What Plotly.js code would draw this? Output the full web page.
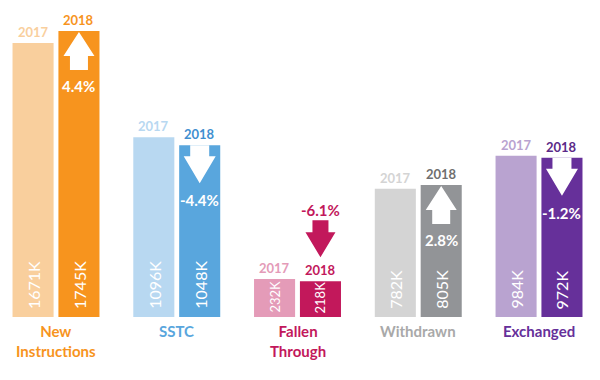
<!DOCTYPE html>
<html><head><meta charset="utf-8">
<script src="https://cdn.plot.ly/plotly-3.0.1.min.js"></script>
<style>html,body{margin:0;padding:0;background:#fff}#chart{width:600px;height:380px}</style>
</head><body><div id="chart"></div>
<script>
const categories = ['New<br>Instructions', 'SSTC', 'Fallen<br>Through', 'Withdrawn', 'Exchanged'];
const years = ['2017', '2018'];
const values2017 = [1671, 1096, 232, 782, 984];
const values2018 = [1745, 1048, 218, 805, 972];
const changeLabels = ['4.4%', '-4.4%', '-6.1%', '2.8%', '-1.2%'];
const colors2017 = ['#F9CF9D', '#B8D8F1', '#E49BB8', '#D4D4D4', '#B9A3D0'];
const colors2018 = ['#F7941E', '#59A6DD', '#C2185B', '#929497', '#66309A'];
const categoryLabelColors = ['#F7941E', '#59A6DD', '#C2185B', '#A9A9A9', '#66309A'];
const year2018LabelColors = ['#F7941E', '#3F8FD0', '#C2185B', '#6F6F6F', '#5B2A88'];

const FONT = 'Lato, "Open Sans", sans-serif';
const idx = categories.map((c, i) => i);
const W = 0.34, OFF = 0.19;
const Y_MAX = 1934;
const PLOT_H = 317;

const traces = [
  {type: 'bar', name: years[0], x: idx, y: values2017, width: W, offset: -0.36,
   marker: {color: colors2017, line: {width: 0}}, hoverinfo: 'skip'},
  {type: 'bar', name: years[1], x: idx, y: values2018, width: W, offset: 0.02,
   marker: {color: colors2018, line: {width: 0}}, hoverinfo: 'skip'}
];

const annotations = [];
const shapes = [];

function valueLabel(x, v) {
  const px = v * PLOT_H / Y_MAX;
  const small = px < 60;
  return {x: x, y: 0, xref: 'x', yref: 'y', text: v + 'K', showarrow: false,
    textangle: -90, yanchor: 'bottom', yshift: small ? 2 : 6,
    font: {family: FONT, size: small ? 13 : 16, color: '#FFFFFF'}};
}

idx.forEach(i => {
  const v17 = values2017[i], v18 = values2018[i];
  const up = v18 >= v17;
  const inside = v18 > 400;
  annotations.push({x: i - OFF, y: v17, xref: 'x', yref: 'y', text: years[0], showarrow: false,
    yanchor: 'bottom', yshift: 1, font: {family: FONT, size: 13, color: colors2017[i], weight: 'bold'}});
  annotations.push({x: i + OFF, y: v18, xref: 'x', yref: 'y', text: years[1], showarrow: false,
    yanchor: 'bottom', yshift: 1, font: {family: FONT, size: 13, color: year2018LabelColors[i], weight: 'bold'}});
  annotations.push(valueLabel(i - OFF, v17));
  annotations.push(valueLabel(i + OFF, v18));
  annotations.push({x: i, y: 0, xref: 'x', yref: 'y', text: categories[i], showarrow: false,
    yanchor: 'top', yshift: -3, font: {family: FONT, size: 15, color: categoryLabelColors[i], weight: 'bold'}});

  let path, fill, txtShift, txtColor;
  if (inside) {
    fill = '#FFFFFF'; txtColor = '#FFFFFF'; txtShift = -55;
    path = up
      ? 'M0,-1 L15.5,-25 L9,-25 L9,-39 L-9,-39 L-9,-25 L-15.5,-25 Z'
      : 'M-9.5,0 L9.5,0 L9.5,-11 L16,-11 L0,-38 L-16,-11 L-9.5,-11 Z';
  } else {
    fill = colors2018[i]; txtColor = colors2018[i]; txtShift = 71;
    path = up
      ? 'M0,61 L15,37 L8,37 L8,24 L-8,24 L-8,37 L-15,37 Z'
      : 'M-8,61 L8,61 L8,49 L15,49 L0,24 L-15,49 L-8,49 Z';
  }
  shapes.push({type: 'path', xref: 'x', yref: 'y', xsizemode: 'pixel', ysizemode: 'pixel',
    xanchor: i + OFF, yanchor: v18, path: path, fillcolor: fill, line: {width: 0}, layer: 'above'});
  annotations.push({x: i + OFF, y: v18, xref: 'x', yref: 'y', text: changeLabels[i], showarrow: false,
    yanchor: 'middle', yshift: txtShift, font: {family: FONT, size: 15, color: txtColor, weight: 'bold'}});
});

const layout = {
  width: 600, height: 380,
  margin: {l: 0, r: 0, t: 0, b: 63, pad: 0},
  paper_bgcolor: '#FFFFFF', plot_bgcolor: '#FFFFFF',
  showlegend: false,
  barmode: 'group',
  xaxis: {range: [-0.4638, 4.505], showgrid: false, zeroline: false, showticklabels: false, ticks: '', showline: false},
  yaxis: {range: [0, Y_MAX], showgrid: false, zeroline: false, showticklabels: false, ticks: '', showline: false},
  annotations: annotations,
  shapes: shapes
};

Plotly.newPlot('chart', traces, layout, {staticPlot: true, displayModeBar: false});
</script>
</body></html>
